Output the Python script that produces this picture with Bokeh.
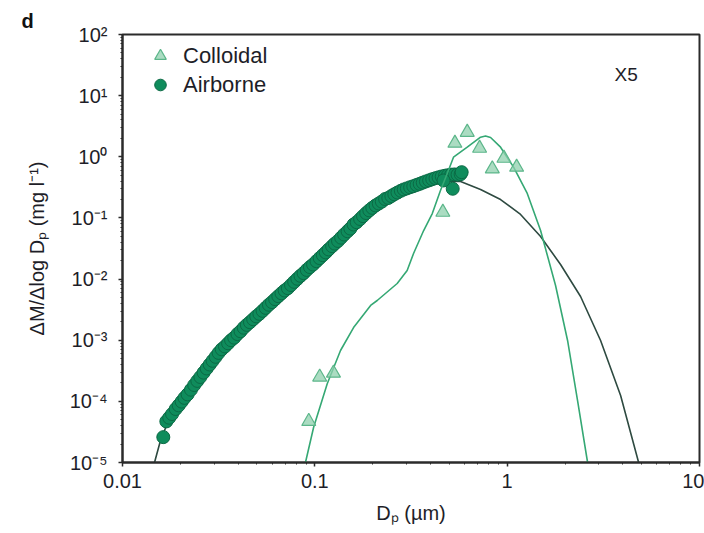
from bokeh.plotting import figure
from bokeh.models import FixedTicker, CustomJSTickFormatter, Legend, LegendItem, Label
from bokeh.embed import file_html
from bokeh.resources import INLINE

FONT = "Liberation Sans"

# ---------------- data ----------------
colloidal_d = [0.093, 0.106, 0.125, 0.463, 0.535, 0.620, 0.719, 0.837, 0.962, 1.12]
colloidal_v = [4.7e-5, 2.5e-4, 2.9e-4, 0.124, 1.67, 2.52, 1.38, 0.635, 0.948, 0.676]

airborne_d = [0.0163, 0.0169, 0.0175, 0.0181, 0.0189, 0.0196, 0.0203, 0.0210, 0.0218, 0.0227,
              0.0236, 0.0245, 0.0254, 0.0264, 0.0274, 0.0284, 0.0294, 0.0305, 0.0316, 0.0328,
              0.0341, 0.0354, 0.0367, 0.0381, 0.0396, 0.0411, 0.0427, 0.0443, 0.0460, 0.0478,
              0.0496, 0.0515, 0.0535, 0.0555, 0.0577, 0.0599, 0.0622, 0.0646, 0.0671, 0.0697,
              0.0724, 0.0752, 0.0781, 0.0811, 0.0842, 0.0874, 0.0908, 0.0943, 0.0979, 0.102,
              0.106, 0.110, 0.114, 0.118, 0.123, 0.127, 0.132, 0.137, 0.142, 0.148,
              0.153, 0.159, 0.165, 0.172, 0.178, 0.185, 0.192, 0.199, 0.207, 0.215,
              0.223, 0.232, 0.241, 0.250, 0.259, 0.269, 0.280, 0.290, 0.301, 0.313,
              0.325, 0.338, 0.351, 0.364, 0.378, 0.393, 0.408, 0.424, 0.440, 0.457,
              0.475, 0.493, 0.512, 0.532, 0.552, 0.573, 0.521, 0.467, 0.580]
airborne_v = [2.6e-5, 4.7e-5, 5.4e-5, 6.2e-5, 7.5e-5, 8.6e-5, 9.9e-5, 1.14e-4, 1.3e-4, 1.55e-4,
              1.85e-4, 2.16e-4, 2.5e-4, 2.95e-4, 3.45e-4, 4.0e-4, 4.6e-4, 5.35e-4, 6.2e-4, 7.1e-4,
              7.9e-4, 8.9e-4, 1.0e-3, 1.1e-3, 1.26e-3, 1.4e-3, 1.6e-3, 1.78e-3, 1.97e-3, 2.2e-3,
              2.45e-3, 2.7e-3, 3.02e-3, 3.38e-3, 3.8e-3, 4.2e-3, 4.7e-3, 5.25e-3, 5.85e-3, 6.5e-3,
              7.1e-3, 8.0e-3, 9.0e-3, 1.01e-2, 1.13e-2, 1.25e-2, 1.41e-2, 1.57e-2, 1.73e-2, 1.96e-2,
              2.2e-2, 2.46e-2, 2.73e-2, 3.05e-2, 3.45e-2, 3.8e-2, 4.2e-2, 4.75e-2, 5.35e-2, 6.05e-2,
              6.7e-2, 7.8e-2, 8.5e-2, 9.6e-2, 0.107, 0.12, 0.133, 0.146, 0.16, 0.172,
              0.185, 0.204, 0.212, 0.228, 0.244, 0.26, 0.278, 0.292, 0.304, 0.318,
              0.33, 0.346, 0.361, 0.378, 0.395, 0.412, 0.43, 0.447, 0.462, 0.477,
              0.49, 0.50, 0.51, 0.515, 0.51, 0.52, 0.30, 0.41, 0.56]

colloidal_fit_d = [0.0842, 0.0894, 0.0985, 0.116, 0.136, 0.159, 0.195, 0.211, 0.268, 0.302,
                   0.326, 0.368, 0.408, 0.450, 0.488, 0.526, 0.620, 0.727, 0.772, 0.820,
                   0.924, 1.08, 1.272, 1.492, 1.785, 2.061, 2.323, 2.619, 2.78]
colloidal_fit_v = [3.5e-6, 1.0e-5, 3.73e-5, 1.94e-4, 6.79e-4, 1.61e-3, 3.70e-3, 4.46e-3, 8.46e-3, 1.38e-2,
                   2.62e-2, 6.22e-2, 0.118, 0.281, 0.533, 0.984, 1.435, 2.09, 2.19, 2.07,
                   1.435, 0.676, 0.251, 6.22e-2, 7.85e-3, 9.9e-4, 1.03e-4, 1.0e-5, 2.9e-6]

airborne_fit_d = [0.0140, 0.01467, 0.01576, 0.01694, 0.01887, 0.02178, 0.02544, 0.03232, 0.04108, 0.05219,
                  0.06631, 0.08424, 0.1071, 0.136, 0.1728, 0.2196, 0.279, 0.3545, 0.4504, 0.5725,
                  0.7272, 0.924, 1.174, 1.492, 1.895, 2.408, 3.06, 3.889, 4.825, 5.25]
airborne_fit_v = [6.1e-6, 1.0e-5, 2.29e-5, 4.03e-5, 7.08e-5, 1.2e-4, 2.19e-4, 6.29e-4, 1.44e-3, 2.63e-3,
                  4.3e-3, 8.4e-3, 1.8e-2, 3.85e-2, 8.3e-2, 0.154, 0.242, 0.327, 0.394, 0.394,
                  0.292, 0.200, 0.114, 4.97e-2, 1.73e-2, 5.19e-3, 9.9e-4, 1.25e-4, 1.0e-5, 1.6e-6]

x_ticks = [0.01, 0.1, 1, 10]
y_ticks = [1e-5, 1e-4, 1e-3, 1e-2, 1e-1, 1e0, 1e1, 1e2]
x_minor = [m * 10.0 ** e for e in (-2, -1, 0) for m in range(2, 10)]
y_minor = [m * 10.0 ** e for e in range(-5, 2) for m in range(2, 10)]

x_label = "D\u209a (\u00b5m)"
y_label = "\u0394M/\u0394log D\u209a (mg l\u207b\u00b9)"
panel_label = "d"
site_label = "X5"

# ---------------- figure ----------------
p = figure(width=704, height=533, x_axis_type="log", y_axis_type="log",
           x_range=(0.01, 10), y_range=(1e-5, 1e2),
           output_backend="svg", toolbar_location=None,
           min_border_left=122, min_border_right=5, min_border_top=34, min_border_bottom=71)
p.grid.visible = False
p.outline_line_color = "#2b2b2b"
p.outline_line_width = 2
p.background_fill_color = "white"
p.border_fill_color = "white"

for ax in (p.xaxis[0], p.yaxis[0]):
    ax.axis_line_color = "#2b2b2b"
    ax.axis_line_width = 2
    ax.major_tick_line_color = "#2b2b2b"
    ax.minor_tick_line_color = "#2b2b2b"
    ax.major_tick_line_width = 1.5
    ax.minor_tick_line_width = 1
    ax.major_tick_out = 4
    ax.major_tick_in = 0
    ax.minor_tick_out = 2
    ax.minor_tick_in = 0
    ax.major_label_text_font = FONT
    ax.major_label_text_font_size = "20px"
    ax.major_label_text_color = "#1e1e28"
    ax.axis_label_text_font = FONT
    ax.axis_label_text_font_size = "20px"
    ax.axis_label_text_font_style = "normal"
    ax.axis_label_text_color = "#1e1e28"

p.xaxis[0].axis_label = x_label
p.yaxis[0].axis_label = y_label
p.xaxis[0].axis_label_standoff = 11
p.yaxis[0].axis_label_standoff = 19

p.xaxis[0].ticker = FixedTicker(ticks=x_ticks, minor_ticks=x_minor)
p.yaxis[0].ticker = FixedTicker(ticks=y_ticks, minor_ticks=y_minor)
p.xaxis[0].formatter = CustomJSTickFormatter(code="return String(Number(tick.toPrecision(6)));")
p.yaxis[0].formatter = CustomJSTickFormatter(code="""
const e = Math.round(Math.log10(tick));
const m = {'-':'\\u207b','0':'\\u2070','1':'\\u00b9','2':'\\u00b2','3':'\\u00b3','4':'\\u2074',
           '5':'\\u2075','6':'\\u2076','7':'\\u2077','8':'\\u2078','9':'\\u2079'};
return '10' + String(e).split('').map(c => m[c]).join('');
""")
p.xaxis[0].major_label_standoff = 7
p.yaxis[0].major_label_standoff = 11

# panel letter as the plot title
p.title.text = panel_label
p.title.text_font = FONT
p.title.text_font_size = "20px"
p.title.text_font_style = "bold"
p.title.text_color = "#111111"
p.title.align = "left"
p.title.offset = -101
p.title.standoff = 5

# ---------------- glyphs ----------------
p.line(airborne_fit_d, airborne_fit_v, line_color="#2e4a41", line_width=1.6)
circ = p.scatter(airborne_d, airborne_v, marker="circle", size=13,
                 fill_color="#0f8c5c", line_color="#0b6a45", line_width=1)
p.line(colloidal_fit_d, colloidal_fit_v, line_color="#35a874", line_width=1.6)
tri = p.scatter(colloidal_d, colloidal_v, marker="triangle", size=14,
                fill_color="#8fd0ae", fill_alpha=0.75, line_color="#5cb68a", line_width=1.2)

legend = Legend(items=[LegendItem(label="Colloidal", renderers=[tri]),
                       LegendItem(label="Airborne", renderers=[circ])],
                location=(22, 363), orientation="vertical", padding=0, margin=0, spacing=0,
                glyph_width=32, glyph_height=29, label_height=29, label_standoff=7,
                label_text_font=FONT, label_text_font_size="22px", label_text_color="#1e1e28",
                background_fill_alpha=0, border_line_alpha=0)
p.add_layout(legend)

p.add_layout(Label(text=site_label, x=492, y=388, x_units="screen", y_units="screen",
                   text_font=FONT, text_font_size="19px", text_color="#1e1e28",
                   text_baseline="alphabetic", text_align="left"))

open("out.html", "w").write(file_html(p, INLINE))
